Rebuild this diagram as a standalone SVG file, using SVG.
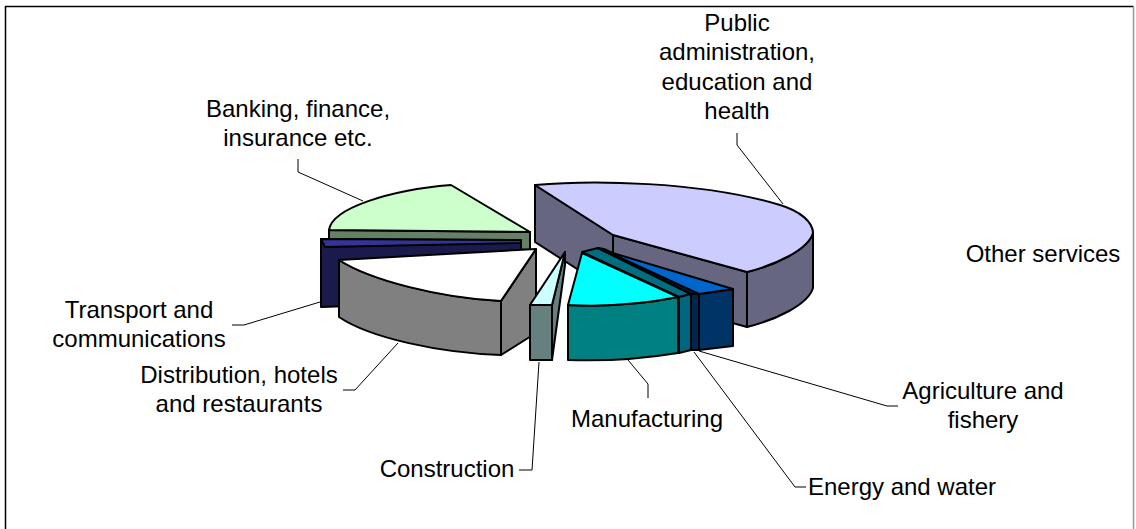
<svg xmlns="http://www.w3.org/2000/svg" width="1136" height="529" viewBox="0 0 1136 529">
<style>
.s{stroke:#000;stroke-width:2;stroke-linejoin:round}
.t{font-family:"Liberation Sans",Arial,sans-serif;font-size:24px;fill:#000;text-anchor:middle}
.ld{fill:none;stroke:#000;stroke-width:1}
</style>
<rect width="1136" height="529" fill="#fff"/>
<g id="frame" fill="none">
<path d="M5.5,530 V6.5 H1133.5" stroke="#000" stroke-width="1.5"/>
<path d="M1133.5,6.5 V530" stroke="#999" stroke-width="1.5"/>
</g>
<g id="public-admin">
<path class="s" fill="#666680" d="M535,185 L613,235 L613,292 L535,242 Z"/>
<path class="s" fill="#666680" d="M613,235 L747,272 L747,327 L613,290 Z"/>
<path class="s" fill="#666680" d="M747,272 C775,265 808,250 813,233 L813,288 C808,305 775,320 747,327 Z"/>
<path class="s" fill="#CCCCFF" d="M535,185 C590,180 700,181 780,205 C800,211 813,222 813,233 C808,250 775,265 747,272 L613,235 Z"/>
<text class="t" x="737" y="31">Public</text>
<text class="t" x="737" y="60">administration,</text>
<text class="t" x="737" y="90">education and</text>
<text class="t" x="737" y="119">health</text>
</g>
<g id="other-services">
<text class="t" x="1043" y="262">Other services</text>
</g>
<g id="banking">
<path class="s" fill="#668066" d="M329,230 L530,232 L530,250 L329,240 Z"/>
<path class="s" fill="#CCFFCC" d="M329,230 C332,208 390,190 451,185 L530,232 Z"/>
<text class="t" x="298" y="117">Banking, finance,</text>
<text class="t" x="298" y="146">insurance etc.</text>
</g>
<g id="transport">
<path class="s" fill="#1A1A4D" d="M321,239 L521,240 L521,300 L321,307 Z"/>
<path class="s" fill="#333399" d="M321,239 L521,240 L521,243 L325,247 Z"/>
<text class="t" x="139" y="318">Transport and</text>
<text class="t" x="139" y="347">communications</text>
</g>
<g id="distribution">
<path class="s" fill="#808080" d="M501,301 L536,249 L536,333 L501,355 Z"/>
<path class="s" fill="#808080" d="M339,260 C370,280 440,298 501,301 L501,355 C440,353 370,338 339,317 Z"/>
<path class="s" fill="#FFFFFF" d="M339,260 L536,249 L501,301 C440,298 370,280 339,260 Z"/>
<text class="t" x="239" y="383">Distribution, hotels</text>
<text class="t" x="239" y="412">and restaurants</text>
</g>
<g id="construction">
<path class="s" fill="#668080" d="M552,305 L565,252 L565,265 L552,360 Z"/>
<path class="s" fill="#668080" d="M530,305 L552,305 L552,360 L530,360 Z"/>
<path class="s" fill="#CCFFFF" d="M530,305 L565,252 L552,305 Z"/>
<text class="t" x="447" y="477">Construction</text>
</g>
<g id="energy-water">
<path class="s" fill="#006E80" d="M582,252 L598,248 L691,294 L679,297 Z"/>
<path class="s" fill="#006680" d="M679,297 L691,294 L691,350 L679,353 Z"/>
<path class="s" fill="#00264D" d="M598,248 L604,249 L699,294 L691,294 Z"/>
<path class="s" fill="#00264D" d="M691,294 L699,294 L699,350 L691,350 Z"/>
<text class="t" x="902" y="495">Energy and water</text>
</g>
<g id="agriculture-fishery">
<path class="s" fill="#003366" d="M699,294 L733,289 L733,346 L699,350 Z"/>
<path class="s" fill="#0066CC" d="M606,251 L733,289 L699,294 Z"/>
<text class="t" x="983" y="399">Agriculture and</text>
<text class="t" x="983" y="428">fishery</text>
</g>
<g id="manufacturing">
<path class="s" fill="#008080" d="M568,305 Q623,308 678,297 L678,353 Q623,362 568,360 Z"/>
<path class="s" fill="#00FFFF" d="M582,253 L678,297 Q623,308 568,305 Z"/>
<text class="t" x="647" y="427">Manufacturing</text>
</g>
<g id="connectors">
<polyline class="ld" points="298,159 298,172 363,201"/>
<polyline class="ld" points="737,133 737,145 783,204"/>
<polyline class="ld" points="232,325 244,325 320,302"/>
<polyline class="ld" points="343,390 355,390 398,343"/>
<polyline class="ld" points="519,470 532,470 539,362"/>
<polyline class="ld" points="648,398 648,384 628,360"/>
<polyline class="ld" points="806,487 795,487 694,352"/>
<polyline class="ld" points="898,406 887,406 699,351"/>
</g>
</svg>
